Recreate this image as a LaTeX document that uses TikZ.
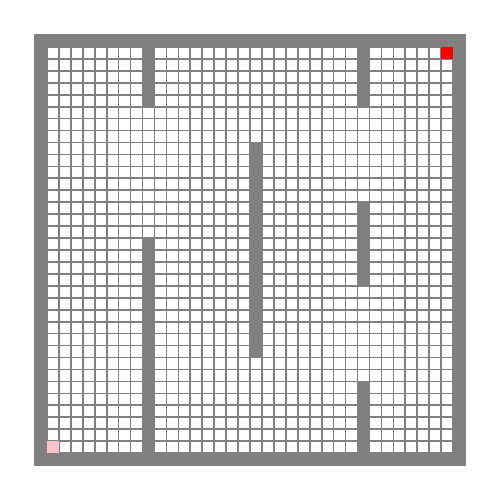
\documentclass[tikz,border=0pt]{standalone}
\definecolor{startpink}{HTML}{FFC0CB}
\begin{document}
\begin{tikzpicture}[x=0.02cm,y=-0.02cm,
  cellbox/.style={fill=white,draw=gray,line width=0.95pt},
  wallbox/.style={fill=gray,draw=gray,line width=0.95pt}]
\useasboundingbox (0,0) rectangle (500,500);
\pgfmathsetmacro{\c}{430/36}
% grid of open cells
\foreach \i in {0,...,35}{
  \foreach \j in {0,...,35}{
    \draw[cellbox] ({35+\i*\c},{35+\j*\c}) rectangle ++(\c,\c);
  }
}
% walls: {col1}{row1}{col2}{row2} inclusive
\foreach \ia/\ja/\ib/\jb in {0/0/35/0, 0/35/35/35, 0/0/0/35, 35/0/35/35,
    9/1/9/5, 9/17/9/34, 18/9/18/26, 27/1/27/5, 27/14/27/20, 27/29/27/34}{
  \draw[wallbox] ({35+\ia*\c},{35+\ja*\c}) rectangle ({35+(\ib+1)*\c},{35+(\jb+1)*\c});
}
% goal and start cells
\fill[red] ({35+34*\c},{35+1*\c}) rectangle ++(\c,\c);
\fill[startpink] ({35+1*\c},{35+34*\c}) rectangle ++(\c,\c);
\end{tikzpicture}
\end{document}
